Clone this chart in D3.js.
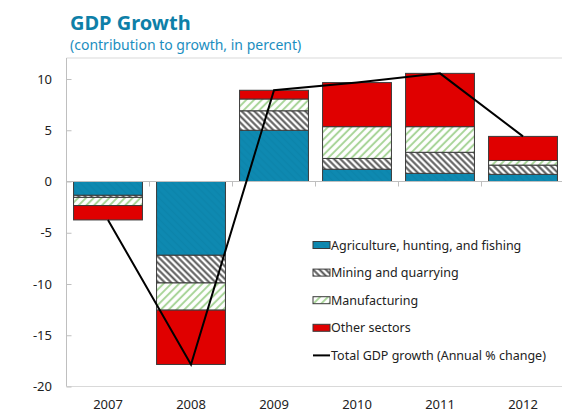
<!DOCTYPE html>
<html>
<head>
<meta charset="utf-8">
<script src="https://cdn.jsdelivr.net/npm/d3@7"></script>
<style>
  html, body { margin: 0; padding: 0; background: #fff; }
  svg { display: block; font-family: "Noto Sans", "Open Sans", sans-serif; }
</style>
</head>
<body>
<svg id="chart" width="562" height="414"></svg>
<script>
// Contribution to GDP growth by sector, percentage points
const years = ["2007", "2008", "2009", "2010", "2011", "2012"];
const agriculture   = [-1.35, -7.2, 5.0, 1.2, 0.8, 0.7];
const mining        = [-0.2, -2.7, 1.9, 1.05, 2.05, 0.9];
const manufacturing = [-0.8, -2.65, 1.15, 3.1, 2.5, 0.45];
const otherSectors  = [-1.4, -5.3, 0.85, 4.3, 5.2, 2.35];
const totalGrowth   = [-3.75, -17.85, 8.9, 9.65, 10.55, 4.4];
const yTicks = [10, 5, 0, -5, -10, -15, -20];

const seriesNames = [
  "Agriculture, hunting, and fishing",
  "Mining and quarrying",
  "Manufacturing",
  "Other sectors"
];
const lineName = "Total GDP growth (Annual % change)";

const svg = d3.select("#chart");

// Hatch patterns
const defs = svg.append("defs");
function hatch(id, bg, stroke, width, size, dir) {
  const p = defs.append("pattern")
    .attr("id", id)
    .attr("patternUnits", "userSpaceOnUse")
    .attr("width", size).attr("height", size)
    .attr("patternTransform", `rotate(${dir})`);
  p.append("rect").attr("width", size).attr("height", size).attr("fill", bg);
  p.append("line")
    .attr("x1", size / 2).attr("y1", 0).attr("x2", size / 2).attr("y2", size)
    .attr("stroke", stroke).attr("stroke-width", width);
}
hatch("pAgri", "#0E89B1", "#0C84AB", 1.5, 5, -45);
hatch("pMining", "#ffffff", "#555555", 2, 4.5, -45);
hatch("pManuf", "#ffffff", "#A9D59A", 2, 5.5, 45);

const fills = ["url(#pAgri)", "url(#pMining)", "url(#pManuf)", "#E00000"];
const series = [agriculture, mining, manufacturing, otherSectors];

const left = 66.5, rightEdge = 564.5;
const x = d3.scaleBand().domain(years).range([left, rightEdge])
  .paddingInner(0.17).paddingOuter(0.085);
const y = d3.scaleLinear().domain([-20, 12]).range([386.5, 58.5]);

const axisColor = "#BFBFBF";

// Title
svg.append("text").attr("x", 70).attr("y", 30)
  .attr("font-size", 20).attr("font-weight", "bold").attr("fill", "#0E7FA8")
  .text("GDP Growth");
svg.append("text").attr("x", 70).attr("y", 50)
  .attr("font-size", 14).attr("fill", "#1B8EC0")
  .text("(contribution to growth, in percent)");

// Frame lines
svg.append("line").attr("x1", left).attr("x2", 562).attr("y1", 58).attr("y2", 58)
  .attr("stroke", "#D9D9D9").attr("stroke-width", 1);
svg.append("line").attr("x1", left).attr("x2", 562).attr("y1", y(-20)).attr("y2", y(-20))
  .attr("stroke", "#D9D9D9").attr("stroke-width", 1);

// Y axis
const yAxis = svg.append("g").attr("transform", `translate(${left},0)`)
  .call(d3.axisLeft(y).tickValues(yTicks).tickSize(-5).tickPadding(14.5).tickFormat(d => String(d)));
yAxis.select(".domain").attr("stroke", axisColor).attr("d", `M0,58V${y(-20)}`);
yAxis.selectAll(".tick line").attr("stroke", axisColor);
yAxis.selectAll(".tick text").attr("font-size", 13).attr("fill", "#222")
  .attr("font-family", "Noto Sans, sans-serif");

// Stacked bars: positives stack up from 0, negatives stack down from 0
const barG = svg.append("g");
years.forEach((yr, i) => {
  let pos = 0, neg = 0;
  series.forEach((s, k) => {
    const v = s[i];
    let y0, y1;
    if (v >= 0) { y0 = pos; y1 = pos + v; pos = y1; }
    else { y0 = neg; y1 = neg + v; neg = y1; }
    barG.append("rect")
      .attr("x", x(yr))
      .attr("width", x.bandwidth())
      .attr("y", y(Math.max(y0, y1)))
      .attr("height", Math.abs(y(y0) - y(y1)))
      .attr("fill", fills[k])
      .attr("stroke", "#3a3a3a")
      .attr("stroke-width", 1);
  });
});

// Zero axis with category ticks
const xAxis = svg.append("g").attr("transform", `translate(0,${y(0)})`);
xAxis.append("line").attr("x1", left).attr("x2", 562).attr("y1", 0).attr("y2", 0)
  .attr("stroke", axisColor);
years.slice(1).forEach(yr => {
  const bx = x(yr) - x.step() * x.paddingInner() / 2;
  xAxis.append("line").attr("x1", bx).attr("x2", bx).attr("y1", 0).attr("y2", 5)
    .attr("stroke", axisColor);
});

// Year labels
svg.append("g").selectAll("text").data(years).join("text")
  .attr("x", d => x(d) + x.bandwidth() / 2)
  .attr("y", 409)
  .attr("text-anchor", "middle")
  .attr("font-size", 13).attr("fill", "#222")
  .text(d => d);

// Total growth line
const line = d3.line()
  .x((d, i) => x(years[i]) + x.bandwidth() / 2)
  .y(d => y(d));
svg.append("path").datum(totalGrowth)
  .attr("d", line)
  .attr("fill", "none").attr("stroke", "#000").attr("stroke-width", 2);

// Legend
const legend = svg.append("g").attr("transform", "translate(313,245)");
const rowH = 27.6;
seriesNames.forEach((name, k) => {
  const g = legend.append("g").attr("transform", `translate(0,${k * rowH})`);
  g.append("rect").attr("x", 0).attr("y", -3.5).attr("width", 17).attr("height", 7)
    .attr("fill", fills[k]).attr("stroke", "#3a3a3a").attr("stroke-width", 1);
  g.append("text").attr("x", 18).attr("y", 4.5).attr("font-size", 12.5).attr("fill", "#222")
    .text(name);
});
const lg = legend.append("g").attr("transform", `translate(0,${4 * rowH})`);
lg.append("line").attr("x1", 0).attr("x2", 17).attr("y1", 0).attr("y2", 0)
  .attr("stroke", "#000").attr("stroke-width", 2);
lg.append("text").attr("x", 18).attr("y", 4.5).attr("font-size", 12.5).attr("fill", "#222")
  .text(lineName);
</script>
</body>
</html>
